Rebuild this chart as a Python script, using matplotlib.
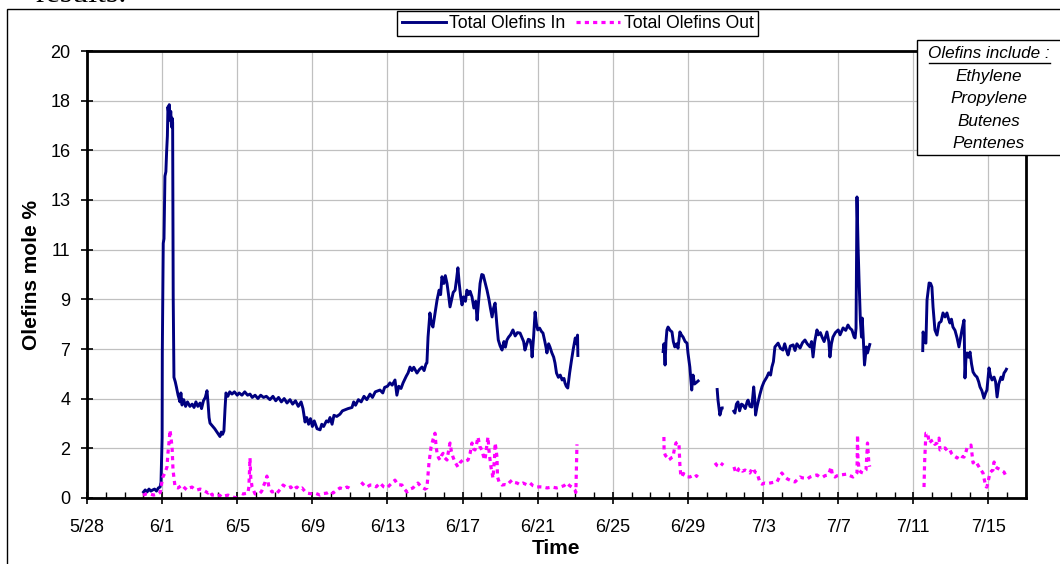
import numpy as np
import matplotlib
matplotlib.use("Agg")
import matplotlib.pyplot as plt
import matplotlib.dates as mdates
from matplotlib.patches import Rectangle
from matplotlib.lines import Line2D

plt.rcParams['font.family'] = ['Liberation Sans', 'DejaVu Sans']

# day offsets from 5/28, NaN = gap in the record
in_days = [
    2.96, 3.10, 3.20, 3.30, 3.40, 3.50, 3.60, 3.70, 3.80, 3.89, 3.94, 3.97, 3.99, 4.00, 4.01,
    4.06, 4.10, 4.15, 4.20, 4.24, 4.28, 4.31, 4.35, 4.38, 4.42, 4.46, 4.50, 4.53, 4.56, 4.59,
    4.63, 4.70, 4.76, 4.85, 4.95, 5.00, 5.06, 5.15, 5.25, 5.35, 5.48, 5.60, 5.70, 5.80, 5.90,
    6.02, 6.10, 6.20, 6.30, 6.39, 6.45, 6.50, 6.55, 6.70, 6.80, 6.92, 7.00, 7.08, 7.15, 7.22,
    7.29, 7.35, 7.40, 7.50, 7.60, 7.72, 7.85, 8.00, 8.10, 8.25, 8.40, 8.55, 8.68, 8.80, 8.95,
    9.10, 9.25, 9.40, 9.55, 9.74, 9.90, 10.05, 10.20, 10.35, 10.50, 10.65, 10.81, 10.95, 11.10,
    11.25, 11.40, 11.50, 11.61, 11.70, 11.80, 11.90, 12.00, 12.10, 12.25, 12.41, 12.50, 12.60,
    12.75, 12.85, 12.94, 13.05, 13.15, 13.30, 13.47, 13.60, 13.75, 13.90, 14.11, 14.20, 14.30,
    14.45, 14.60, 14.75, 14.90, 15.07, 15.20, 15.35, 15.50, 15.60, 15.75, 15.85, 16.00, 16.13,
    16.25, 16.40, 16.50, 16.60, 16.72, 16.83, 17.00, 17.10, 17.20, 17.30, 17.40, 17.57, 17.70,
    17.84, 17.95, 18.05, 18.10, 18.16, 18.26, 18.34, 18.42, 18.52, 18.64, 18.75, 18.83, 18.90,
    19.00, 19.08, 19.17, 19.25, 19.33, 19.42, 19.50, 19.60, 19.68, 19.75, 19.82, 19.90, 19.97,
    20.05, 20.15, 20.23, 20.32, 20.40, 20.50, 20.60, 20.70, 20.77, 20.85, 20.93, 21.02, 21.10,
    21.18, 21.30, 21.40, 21.48, 21.57, 21.65, 21.73, 21.82, 21.90, 22.00, 22.10, 22.20, 22.28,
    22.36, 22.45, 22.55, 22.68, 22.80, 22.92, 23.06, 23.15, 23.25, 23.32, 23.42, 23.50, 23.59,
    23.66, 23.70, 23.78, 23.86, 23.93, 24.00, 24.10, 24.20, 24.28, 24.38, 24.45, 24.49, 24.58,
    24.65, 24.75, 24.85, 24.92, 25.00, 25.10, 25.20, 25.30, 25.40, 25.45, 25.52, 25.60, 25.70,
    25.80, 25.90, 26.00, 26.06, 26.12, 26.14, np.nan,
    30.67, 30.72, 30.78, 30.83, 30.88, 30.94, 31.05, 31.15, 31.22, 31.30, 31.40, 31.47, 31.57,
    31.65, 31.74, 31.85, 31.95, 32.00, 32.10, 32.20, 32.27, 32.35, 32.48, 32.60, np.nan,
    33.55, 33.60, 33.70, 33.80, 33.90, np.nan,
    34.40, 34.50, 34.58, 34.66, 34.75, 34.85, 34.93, 35.05, 35.15, 35.20, 35.30, 35.40, 35.50,
    35.56, 35.60, 35.66, 35.70, 35.82, 35.94, 36.05, 36.20, 36.30, 36.40, 36.47, 36.55, 36.63,
    36.72, 36.80, 36.92, 37.06, 37.15, 37.25, 37.33, 37.45, 37.60, 37.70, 37.80, 37.97, 38.10,
    38.23, 38.35, 38.50, 38.58, 38.66, 38.75, 38.87, 38.95, 39.05, 39.14, 39.25, 39.40, 39.50,
    39.56, 39.64, 39.72, 39.85, 40.00, 40.10, 40.26, 40.40, 40.52, 40.62, 40.73, 40.85, 40.90,
    40.95, 41.00, 41.03, 41.06, 41.11, 41.18, 41.24, 41.28, 41.34, 41.40, 41.50, 41.56, 41.70,
    np.nan,
    44.50, 44.52, 44.60, 44.67, 44.73, 44.84, 44.92, 44.99, 45.05, 45.15, 45.26, 45.37, 45.48,
    45.58, 45.69, 45.79, 45.88, 45.95, 46.03, 46.11, 46.22, 46.33, 46.43, 46.52, 46.59, 46.70,
    46.75, 46.80, 46.86, 46.95, 47.02, 47.10, 47.18, 47.28, 47.39, 47.48, 47.55, 47.65, 47.76,
    47.85, 47.92, 48.03, 48.10, 48.19, 48.30, 48.38, 48.46, 48.55, 48.67, 48.75, 48.83, 48.92,
    48.99,
]
in_vals = [
    0.22, 0.36, 0.27, 0.40, 0.31, 0.36, 0.40, 0.31, 0.45, 0.49, 0.70, 1.75, 2.25, 2.70, 6.5,
    11.4, 11.6, 14.4, 14.6, 15.5, 16.2, 17.5, 17.2, 17.6, 16.9, 17.3, 16.6, 17.0, 16.8, 9.0,
    5.4, 5.2, 4.97, 4.6, 4.3, 4.7, 4.16, 4.4, 4.1, 4.3, 4.1, 4.2, 4.05, 4.3, 4.1,
    4.25, 4.0, 4.35, 4.5, 4.8, 4.2, 3.6, 3.35, 3.2, 3.1, 2.95, 2.85, 2.75, 2.95, 2.85,
    3.0, 4.0, 4.7, 4.55, 4.75, 4.65, 4.75, 4.6, 4.7, 4.6, 4.75, 4.6, 4.65, 4.5, 4.6,
    4.45, 4.6, 4.5, 4.55, 4.4, 4.55, 4.35, 4.5, 4.3, 4.45, 4.25, 4.4, 4.2, 4.35,
    4.1, 4.3, 4.0, 3.4, 3.6, 3.3, 3.55, 3.2, 3.45, 3.1, 3.05, 3.3, 3.2,
    3.45, 3.4, 3.6, 3.3, 3.7, 3.65, 3.75, 3.9, 3.95, 4.0, 4.05, 4.3, 4.15,
    4.4, 4.3, 4.55, 4.4, 4.65, 4.5, 4.75, 4.8, 4.83, 4.7, 4.95, 5.0, 5.15,
    5.05, 5.28, 4.6, 5.0, 4.9, 5.15, 5.45, 5.6, 5.86, 5.7, 5.85, 5.59, 5.75,
    5.86, 5.7, 6.0, 6.04, 7.2, 8.28, 7.8, 7.65, 8.2, 8.86, 9.3, 9.1, 9.9,
    9.6, 9.95, 9.6, 9.1, 8.55, 8.9, 9.2, 9.3, 9.8, 10.3, 9.6, 9.0, 8.64,
    9.0, 8.8, 9.3, 9.1, 9.25, 9.0, 8.5, 8.8, 7.96, 8.8, 9.6, 10.0, 9.97,
    9.7, 9.3, 8.9, 8.5, 8.1, 8.5, 8.72, 7.8, 7.07, 6.8, 6.62, 7.0, 6.75,
    7.07, 7.2, 7.3, 7.52, 7.25, 7.4, 7.38, 7.2, 7.0, 6.62, 6.9, 7.1, 7.07,
    6.8, 6.31, 7.2, 8.32, 7.8, 7.52, 7.6, 7.45, 7.38, 7.0, 6.7, 6.49, 6.9,
    6.76, 6.5, 6.3, 6.04, 5.59, 5.4, 5.5, 5.28, 5.35, 5.15, 5.0, 4.92, 5.6,
    6.17, 6.7, 7.16, 6.9, 7.29, 6.31, np.nan,
    6.49, 6.9, 5.95, 7.0, 7.52, 7.65, 7.5, 7.43, 7.0, 6.76, 6.9, 6.7, 7.43,
    7.3, 7.2, 7.0, 6.93, 6.49, 5.86, 4.83, 5.5, 5.1, 5.19, 5.28, np.nan,
    4.92, 4.38, 3.71, 4.03, 4.03, np.nan,
    3.94, 3.8, 4.2, 4.3, 3.9, 4.2, 4.16, 4.0, 4.3, 4.38, 4.1, 4.07, 4.97,
    4.4, 3.71, 4.0, 4.16, 4.6, 4.97, 5.2, 5.41, 5.6, 5.5, 5.86, 6.1, 6.76,
    6.85, 6.93, 6.7, 6.62, 6.9, 6.6, 6.4, 6.8, 6.85, 6.6, 6.9, 6.71, 6.95,
    7.07, 6.9, 6.76, 7.0, 6.31, 7.0, 7.52, 7.3, 7.4, 7.2, 7.0, 7.43, 7.0,
    6.31, 6.9, 7.2, 7.4, 7.52, 7.3, 7.61, 7.5, 7.74, 7.6, 7.52, 7.2, 7.16,
    7.6, 13.47, 12.35, 11.2, 9.75, 7.96, 7.2, 8.05, 7.07, 5.95, 6.76, 6.49, 6.93,
    np.nan,
    6.53, 7.43, 7.0, 6.93, 8.86, 9.62, 9.6, 9.44, 8.55, 7.52, 7.29, 7.83, 7.9,
    8.28, 8.1, 8.28, 8.0, 7.83, 8.0, 7.65, 7.5, 7.16, 6.76, 7.2, 7.52, 7.96,
    5.37, 6.2, 6.49, 6.3, 6.53, 6.0, 5.64, 5.5, 5.41, 5.2, 4.97, 4.8, 4.47,
    4.7, 4.83, 5.82, 5.5, 5.28, 5.41, 5.2, 4.52, 5.1, 5.41, 5.3, 5.59, 5.7,
    5.82,
]

out_days = [
    2.98, 3.15, 3.35, 3.55, 3.78, 3.90, 3.94, 4.04, 4.15, 4.26, 4.31, 4.38, 4.42, 4.47, 4.53,
    4.58, 4.63, 4.69, 4.85, 5.06, 5.20, 5.32, 5.45, 5.59, 5.72, 5.86, 6.02, 6.18, 6.30, 6.44,
    6.55, 6.66, 6.80, 6.92, 7.05, 7.19, 7.35, 7.51, 7.65, 7.77, 7.90, 7.99, np.nan,
    8.25, 8.31, 8.45, 8.57, 8.62, 8.66, 8.68, 8.72, 8.79, 8.95, 9.08, 9.21, 9.30, 9.37, 9.48,
    9.58, 9.69, 9.85, 10.00, 10.12, 10.30, 10.44, 10.58, 10.70, 10.85, 10.97, 11.10, 11.18,
    11.30, 11.45, 11.60, 11.71, 11.85, 12.03, 12.20, 12.41, 12.60, 12.78, 12.95, 13.10, 13.30,
    13.47, 13.65, 13.84, 13.95, 14.11, np.nan,
    14.60, 14.64, 14.78, 14.91, 15.07, 15.23, 15.40, 15.60, 15.80, 15.97, 16.15, 16.40, 16.55,
    16.77, 16.90, 17.04, 17.20, 17.36, 17.50, 17.62, 17.75, 17.89, 18.00, 18.10, 18.21, 18.32,
    18.42, 18.53, 18.58, 18.64, 18.72, 18.80, 18.88, 18.96, 19.05, 19.17, 19.25, 19.33, 19.40,
    19.49, 19.60, 19.75, 19.88, 20.02, 20.15, 20.29, 20.40, 20.50, 20.58, 20.66, 20.74, 20.82,
    20.92, 21.03, 21.10, 21.19, 21.27, 21.35, 21.42, 21.51, 21.62, 21.70, 21.73, 21.78, 21.83,
    21.86, 21.95, 22.10, 22.25, 22.36, 22.50, 22.63, 22.75, 22.90, 23.05, 23.22, 23.40, 23.59,
    23.75, 23.96, 24.10, 24.28, 24.50, 24.76, 25.00, 25.19, 25.40, 25.56, 25.70, 25.82, 25.98,
    26.03, 26.06, 26.09, np.nan,
    30.72, 30.73, 30.80, 30.88, 30.96, 31.04, 31.12, 31.20, 31.28, 31.36, 31.45, 31.52, 31.57,
    31.62, 31.68, 31.76, 31.84, 31.95, 32.10, 32.25, 32.37, 32.45, 32.53, np.nan,
    33.44, 33.55, 33.70, 33.80, 33.87, np.nan,
    34.45, 34.52, 34.61, 34.70, 34.77, 34.90, 35.04, 35.15, 35.30, 35.40, 35.46, 35.58, 35.68,
    35.76, 35.84, 35.95, 36.10, 36.25, 36.37, 36.55, 36.74, 36.85, 37.00, 37.10, 37.17, 37.30,
    37.43, 37.55, 37.70, 37.85, 37.97, 38.10, 38.23, 38.35, 38.50, 38.70, 38.87, 39.00, 39.19,
    39.30, 39.46, 39.55, 39.62, 39.70, 39.83, 39.95, 40.10, 40.30, 40.47, 40.62, 40.79, 40.90,
    41.00, 41.03, 41.05, 41.11, 41.22, 41.32, 41.42, 41.48, 41.53, 41.56, 41.60, 41.63, 41.68,
    np.nan,
    44.57, 44.60, 44.67, 44.77, 44.84, 44.95, 45.05, 45.15, 45.26, 45.37, 45.42, 45.55, 45.69,
    45.82, 45.95, 46.03, 46.11, 46.22, 46.33, 46.40, 46.49, 46.60, 46.70, 46.78, 46.86, 46.95,
    47.07, 47.12, 47.18, 47.26, 47.34, 47.42, 47.50, 47.60, 47.71, 47.76, 47.82, 47.88, 47.92,
    48.00, 48.08, 48.16, 48.24, 48.30, 48.38, 48.46, 48.56, 48.67, 48.75, 48.83, 48.92, 48.99,
]
out_vals = [
    0.13, 0.18, 0.18, 0.13, 0.18, 0.25, 0.49, 0.94, 1.12, 1.39, 2.0, 2.6, 3.04, 2.7, 2.28,
    1.25, 0.9, 0.49, 0.45, 0.58, 0.45, 0.36, 0.45, 0.49, 0.4, 0.36, 0.4, 0.36, 0.3, 0.22,
    0.3, 0.13, 0.13, 0.09, 0.13, 0.04, 0.1, 0.13, 0.08, 0.04, 0.02, 0.0, np.nan,
    0.2, 0.18, 0.2, 0.22, 0.5, 1.3, 1.79, 0.9, 0.49, 0.18, 0.2, 0.22, 0.3, 0.49, 0.7,
    0.98, 0.49, 0.27, 0.3, 0.22, 0.4, 0.58, 0.5, 0.45, 0.5, 0.36, 0.45, 0.49,
    0.4, 0.45, 0.3, 0.22, 0.2, 0.18, 0.2, 0.13, 0.2, 0.22, 0.3, 0.22, 0.35,
    0.45, 0.4, 0.49, 0.45, 0.36, np.nan,
    0.7, 0.67, 0.55, 0.49, 0.58, 0.58, 0.5, 0.67, 0.5, 0.45, 0.6, 0.8, 0.6,
    0.58, 0.4, 0.27, 0.4, 0.45, 0.6, 0.67, 0.55, 0.45, 0.4, 0.45, 1.57, 2.28,
    2.6, 2.9, 2.4, 2.0, 1.8, 1.7, 1.9, 2.0, 1.8, 1.7, 2.1, 2.46, 2.1,
    1.83, 1.6, 1.39, 1.6, 1.7, 1.65, 1.7, 2.0, 2.46, 2.2, 2.15, 2.4, 2.73,
    2.3, 2.15, 1.9, 1.7, 2.2, 2.73, 2.0, 1.39, 0.89, 1.8, 2.46, 2.2, 1.83,
    0.94, 0.7, 0.58, 0.6, 0.58, 0.7, 0.8, 0.7, 0.67, 0.6, 0.67, 0.6, 0.67,
    0.55, 0.49, 0.5, 0.49, 0.45, 0.49, 0.45, 0.49, 0.55, 0.67, 0.55, 0.49, 0.36,
    0.25, 1.4, 2.4, np.nan,
    2.73, 2.06, 1.9, 1.83, 1.7, 1.74, 1.8, 1.83, 2.2, 2.46, 2.5, 2.46, 1.48,
    1.0, 0.94, 1.1, 1.03, 0.95, 0.94, 1.0, 0.94, 1.0, 0.94, np.nan,
    1.57, 1.45, 1.39, 1.5, 1.57, np.nan,
    1.39, 1.2, 1.12, 1.3, 1.34, 1.2, 1.25, 1.2, 1.12, 1.3, 1.34, 1.15, 1.12,
    0.9, 0.67, 0.62, 0.67, 0.65, 0.67, 0.7, 0.72, 0.9, 1.12, 1.0, 0.94, 0.85,
    0.8, 0.75, 0.72, 0.85, 0.94, 0.9, 0.89, 0.85, 0.94, 1.0, 1.03, 0.95, 0.94,
    1.0, 1.03, 1.2, 1.39, 1.0, 0.94, 1.0, 1.03, 1.05, 1.07, 1.0, 0.94, 1.0,
    1.12, 2.82, 1.83, 1.25, 1.15, 1.12, 1.2, 1.25, 2.0, 2.46, 2.0, 1.57, 1.4,
    np.nan,
    0.49, 1.57, 2.9, 2.9, 2.46, 2.55, 2.6, 2.4, 2.46, 2.68, 2.15, 2.2, 2.24,
    2.1, 2.15, 2.0, 1.92, 1.85, 1.79, 1.9, 1.92, 1.85, 1.83, 2.0, 2.24, 2.3,
    2.37, 2.0, 1.57, 1.65, 1.61, 1.5, 1.39, 1.25, 1.12, 0.9, 0.67, 0.5, 0.49,
    0.8, 1.12, 1.2, 1.25, 1.61, 1.4, 1.34, 1.3, 1.25, 1.2, 1.16, 1.0, 0.89,
]

start = mdates.date2num(np.datetime64('2006-05-28'))
y_ticks = np.linspace(0, 20, 10)
y_labels = [f"{v:.0f}" for v in y_ticks]

W, H = 1060, 564
fig = plt.figure(figsize=(W / 100, H / 100), dpi=100)
ax = fig.add_axes([87 / W, 66 / H, 939 / W, 447 / H])

out_style = (0, (1.3, 1.3))
x_in = start + np.array(in_days)
x_out = start + np.array(out_days)
ax.plot(x_in, in_vals, color='#000080', lw=2.1, solid_capstyle='butt')
ax.plot(x_out, out_vals, color='#FF00FF', lw=2.3, linestyle=out_style)

ax.set_xlim(start, start + 50)
ax.set_ylim(0, 20)
ax.set_yticks(y_ticks)
ax.set_yticklabels(y_labels)
ax.set_xticks(start + np.arange(0, 51, 4))
ax.set_xticks(start + np.arange(0, 51, 1), minor=True)
ax.xaxis.set_major_formatter(mdates.DateFormatter('%-m/%-d'))

ax.grid(True, which='major', color='#c0c0c0', lw=0.9)
ax.set_axisbelow(True)
for s in ax.spines.values():
    s.set_linewidth(2.0)
    s.set_color('black')
ax.tick_params(axis='both', which='major', labelsize=13, width=1.2, length=8,
               direction='inout', color='black')
ax.tick_params(axis='y', which='major', pad=8)
ax.tick_params(axis='x', which='major', pad=11)
ax.tick_params(axis='x', which='minor', direction='in', length=4, width=1.0)

ax.set_ylabel('Olefins mole %', fontsize=15, fontweight='bold', va='center')
ax.yaxis.set_label_coords(-(87 - 32) / 939, 0.5)
ax.set_xlabel('Time', fontsize=15, fontweight='bold', va='center')
ax.xaxis.set_label_coords(0.5, -(548 - 498) / 447)

# chart frame and the bit of document text above it
fig.patches.append(Rectangle((6.5 / W, -0.1), 1.2, 1.1 - 9 / H, transform=fig.transFigure,
                             fill=False, edgecolor='black', lw=1.0))
fig.text(35 / W, 1 - 1.5 / H, 'results.', fontsize=23, family='Liberation Serif', va='baseline')

handles = [Line2D([], [], color='#000080', lw=2.1),
           Line2D([], [], color='#FF00FF', lw=2.3, linestyle=out_style)]
leg = fig.legend(handles, ['Total Olefins In', 'Total Olefins Out'], loc='center',
                 bbox_to_anchor=(577.5 / W, 1 - 23.5 / H), ncol=2, fontsize=12.7,
                 frameon=True, fancybox=False, edgecolor='black', framealpha=1,
                 handlelength=2.5, handletextpad=0.2, columnspacing=0.6,
                 borderpad=0.25, borderaxespad=0)
leg.get_frame().set_linewidth(1.0)

# note box
fig.patches.append(Rectangle((917 / W, 1 - 155 / H), 0.2, 115 / H, transform=fig.transFigure,
                             facecolor='white', edgecolor='black', lw=1.0, zorder=5))
note_lines = ['Olefins include :', 'Ethylene', 'Propylene', 'Butenes', 'Pentenes']
note_y = [53, 76, 99, 121, 143]
for txt, yy in zip(note_lines, note_y):
    fig.text(989 / W, 1 - yy / H, txt, ha='center', va='center', fontsize=12.3,
             style='italic', zorder=6)
fig.lines.append(Line2D([929 / W, 1050 / W], [1 - 63 / H, 1 - 63 / H],
                        transform=fig.transFigure, color='black', lw=1.0, zorder=6))

fig.savefig('out.png', dpi=100)
